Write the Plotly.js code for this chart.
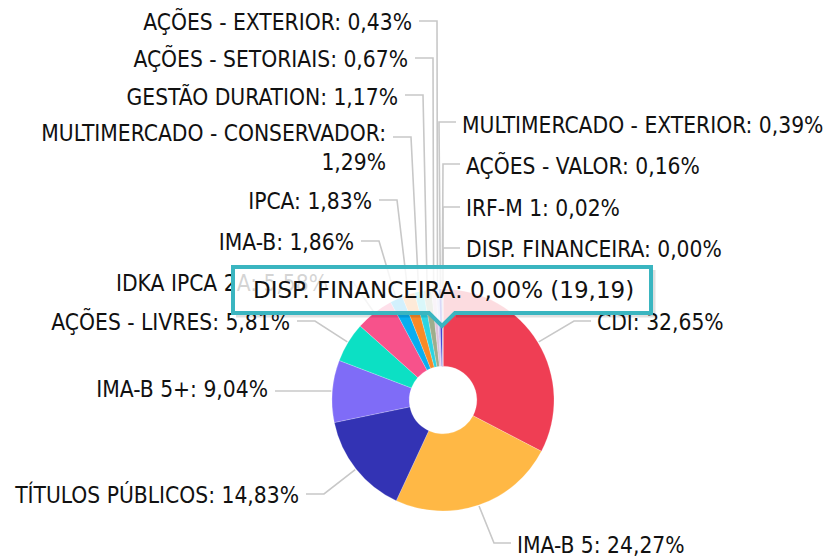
<!DOCTYPE html>
<html>
<head>
<meta charset="utf-8">
<script src="https://cdn.plot.ly/plotly-3.0.1.min.js"></script>
<style>html,body{margin:0;padding:0;background:#fff;}#chart{width:829px;height:557px;}</style>
</head>
<body>
<div id="chart"></div>
<script>
// ---- data ----
const categories = ["CDI","IMA-B 5","TÍTULOS PÚBLICOS","IMA-B 5+","AÇÕES - LIVRES","IDKA IPCA 2A","IMA-B","IPCA","MULTIMERCADO - CONSERVADOR","GESTÃO DURATION","AÇÕES - SETORIAIS","AÇÕES - EXTERIOR","MULTIMERCADO - EXTERIOR","AÇÕES - VALOR","IRF-M 1","DISP. FINANCEIRA"];
const shares = [32.65,24.27,14.83,9.04,5.81,5.58,1.86,1.83,1.29,1.17,0.67,0.43,0.39,0.16,0.02,0.00];
const tooltipIndex = 15;
const tooltipValue = "19,19";

// ---- styling / layout ----
const colors = ["#EF3E54","#FFB845","#3333B4","#7F6CF7","#0CE0C4","#F7528B","#08AEF0","#F98A27","#2CD4E2","#9EAD8C","#DCC3DA","#C9C4F4","#2C2CCF","#5B8BD8","#E04060","#E8E8E8"];
const side =  ["R","R","L","L","L","L","L","L","L","L","L","L","R","R","R","R"];
const textX = [597,517,299,268,290,328,354,372,386,398,408,412,462,466,466,466];
const textY = [324,547,497,391,324,285,244,203,150,99,61,24,127,168,210,251];
const lineY = [321,543,494,391,321,282,241,200,137,95,58,21,122,164,207,248];
const wrapAfterColon = ["MULTIMERCADO - CONSERVADOR"];

const W = 829, H = 557;
const cx = 443, cy = 400, R = 111;
const FONT = "DejaVu Sans Condensed, DejaVu Sans, sans-serif";

function fmt(v){ return v.toFixed(2).replace('.', ',') + '%'; }

const total = shares.reduce((a,b)=>a+b,0);
let cum = 0;
const lx = [], ly = [];
const leftT = {x:[],y:[],t:[]}, rightT = {x:[],y:[],t:[]};
categories.forEach((c,i)=>{
  const mid = (cum + shares[i]/2)/total;
  cum += shares[i];
  const th = 2*Math.PI*mid;
  const ex = cx + (R+1)*Math.sin(th);
  const ey = cy - (R+1)*Math.cos(th);
  const isL = side[i] === "L";
  const hx = isL ? textX[i] + 7 : textX[i] - 6;
  const bx = isL ? textX[i] + 25 : textX[i] - 23;
  lx.push(ex, bx, hx, null);
  ly.push(ey, lineY[i], lineY[i], null);
  const txt = wrapAfterColon.includes(c) ? c + ":<br>" + fmt(shares[i]) : c + ": " + fmt(shares[i]);
  const tgt = isL ? leftT : rightT;
  tgt.x.push(textX[i]); tgt.y.push(textY[i]); tgt.t.push(txt);
});

const traces = [
  {type:'scatter', mode:'lines', x:lx, y:ly, line:{color:'#C8C8C8', width:1.6}, hoverinfo:'skip', showlegend:false, cliponaxis:false},
  {type:'scatter', mode:'text', x:leftT.x, y:leftT.y, text:leftT.t, textposition:'middle left', textfont:{family:FONT, size:22.6, color:'#111'}, hoverinfo:'skip', showlegend:false, cliponaxis:false},
  {type:'scatter', mode:'text', x:rightT.x, y:rightT.y, text:rightT.t, textposition:'middle right', textfont:{family:FONT, size:22.6, color:'#111'}, hoverinfo:'skip', showlegend:false, cliponaxis:false},
  {type:'pie', labels:categories, values:shares, sort:false, direction:'clockwise', rotation:0,
   hole:0.305, textinfo:'none', hoverinfo:'none', showlegend:false,
   marker:{colors:colors, line:{color:'rgba(255,255,255,0.35)', width:0.6}},
   domain:{x:[(cx-R)/W,(cx+R)/W], y:[(H-cy-R)/H,(H-cy+R)/H]}}
];

const tipPath = "M 233 267 L 651 267 L 651 313 L 455 313 L 442 326 L 429 313 L 233 313 Z";
const shadowPath = "M 236 316 L 428 316 M 456 316 L 654 316 L 654 270";

const layout = {
  width:W, height:H, margin:{l:0,r:0,t:0,b:0},
  paper_bgcolor:'#fff', plot_bgcolor:'rgba(0,0,0,0)',
  xaxis:{range:[0,W], visible:false, fixedrange:true},
  yaxis:{range:[H,0], visible:false, fixedrange:true},
  showlegend:false,
  shapes:[
    {type:'path', xref:'x', yref:'y', path:shadowPath, line:{color:'rgba(0,0,0,0.12)', width:3}, layer:'above'},
    {type:'path', xref:'x', yref:'y', path:tipPath, fillcolor:'rgba(255,255,255,0.82)', line:{color:'#3AB5C0', width:4}, layer:'above'}
  ],
  annotations:[
    {xref:'x', yref:'y', x:443, y:290, showarrow:false, xanchor:'center', yanchor:'middle',
     text: categories[tooltipIndex] + ": " + fmt(shares[tooltipIndex]) + " (" + tooltipValue + ")",
     font:{family:"DejaVu Sans, sans-serif", size:23, color:'#111'}}
  ]
};

Plotly.newPlot('chart', traces, layout, {staticPlot:true, displayModeBar:false});
</script>
</body>
</html>
